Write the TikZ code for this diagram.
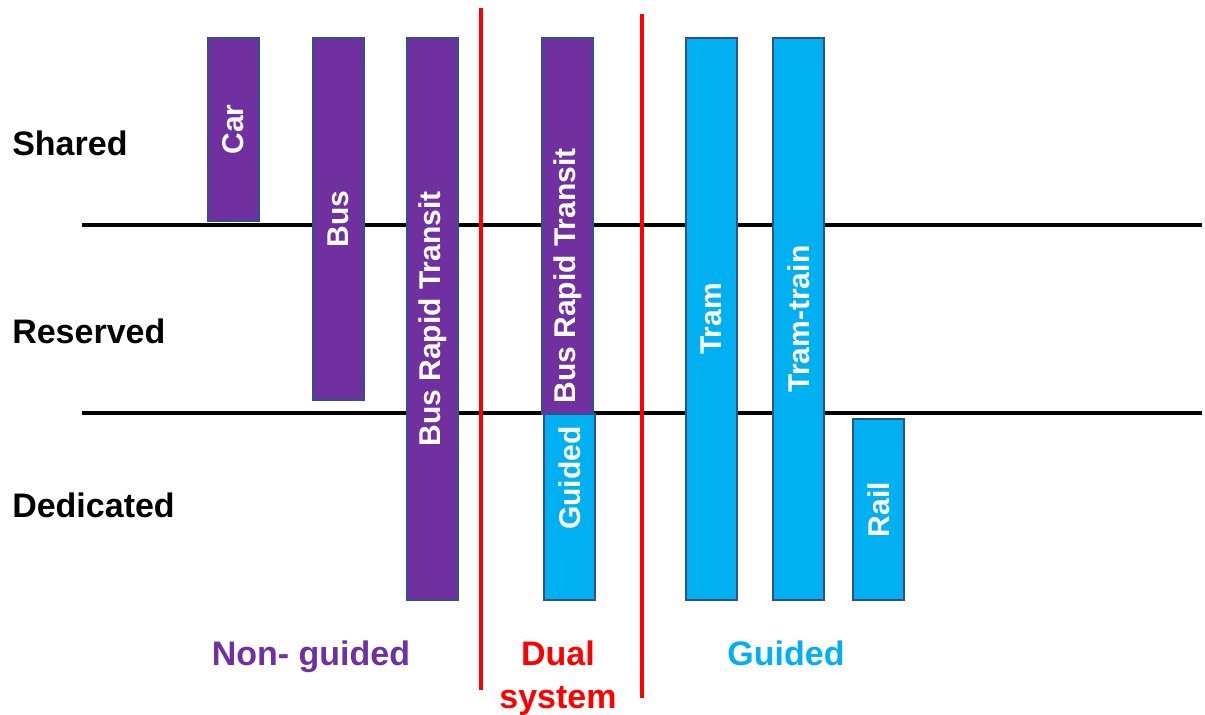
\documentclass[tikz,border=0pt]{standalone}
\usepackage{fontspec}
\setmainfont{Liberation Sans}
\definecolor{roadpurple}{HTML}{7030A0}
\definecolor{railcyan}{HTML}{00B0F0}
\definecolor{barline}{HTML}{2F528F}
\definecolor{divred}{HTML}{FF0000}
\begin{document}
\begin{tikzpicture}[x=0.75pt,y=-0.75pt,
  barbox/.style 2 args={draw=barline,line width=1.1pt,inner sep=0pt,outer sep=0pt,
    anchor=north west,minimum width=#1*0.75pt,minimum height=#2*0.75pt},
  nonguided/.style={fill=roadpurple},
  guidedfill/.style={fill=railcyan},
  bartext/.style={rotate=90,text=white,inner sep=0pt,
    font=\fontsize{22.5pt}{26pt}\selectfont\bfseries},
  rowlabel/.style={anchor=base west,inner sep=0pt,
    font=\fontsize{25.5pt}{30pt}\selectfont\bfseries},
  grouplabel/.style={anchor=base,inner sep=0pt,align=center,
    font=\fontsize{25.5pt}{32.25pt}\selectfont\bfseries},
  level/.style={line width=2.3pt,black},
  divider/.style={line width=2.3pt,divred}]
\useasboundingbox (0,0) rectangle (1205,714);

% level boundaries
\coordinate (l1a) at (82,225);  \coordinate (l1b) at (1202,225);
\coordinate (l2a) at (82,413);  \coordinate (l2b) at (1202,413);
\draw[level] (l1a) -- (l1b);
\draw[level] (l2a) -- (l2b);

% category dividers
\coordinate (d1a) at (481,8);   \coordinate (d1b) at (481,690);
\coordinate (d2a) at (642,14);  \coordinate (d2b) at (642,698);
\draw[divider] (d1a) -- (d1b);
\draw[divider] (d2a) -- (d2b);

% row labels
\node[rowlabel] (shared)    at (12,155) {Shared};
\node[rowlabel] (reserved)  at (12,343) {Reserved};
\node[rowlabel] (dedicated) at (12,517) {Dedicated};

% non-guided modes
\node[barbox={51}{183},nonguided] (car) at (208,38) {};
\node[barbox={51}{362},nonguided] (bus) at (313,38) {};
\node[barbox={51}{562},nonguided] (brt) at (407,38) {};
\node[bartext] at (car.center) {Car};
\node[bartext] at (bus.center) {Bus};
\node[bartext] at (brt.center) {Bus Rapid Transit};

% dual system
\node[barbox={51}{376},nonguided] (dualbrt) at (542,38) {};
\node[barbox={51}{186},guidedfill] (dualguided) at (544,414) {};
\node[bartext] at (567.5,276) {Bus Rapid Transit};
\node[bartext] at (569.5,478) {Guided};

% guided modes
\node[barbox={51}{562},guidedfill] (tram) at (686,38) {};
\node[barbox={51}{562},guidedfill] (tramtrain) at (773,38) {};
\node[barbox={51}{181},guidedfill] (rail) at (853,419) {};
\node[bartext] at (tram.center) {Tram};
\node[bartext] at (tramtrain.center) {Tram-train};
\node[bartext] at (rail.center) {Rail};

% category labels (a two-line node sits on its last baseline)
\node[grouplabel,text=roadpurple] (ngl) at (311,665) {Non- guided};
\node[grouplabel,text=divred] (dsl) at (558,708) {Dual\\system};
\node[grouplabel,text=railcyan] (gl) at (786,665) {Guided};
\end{tikzpicture}
\end{document}
